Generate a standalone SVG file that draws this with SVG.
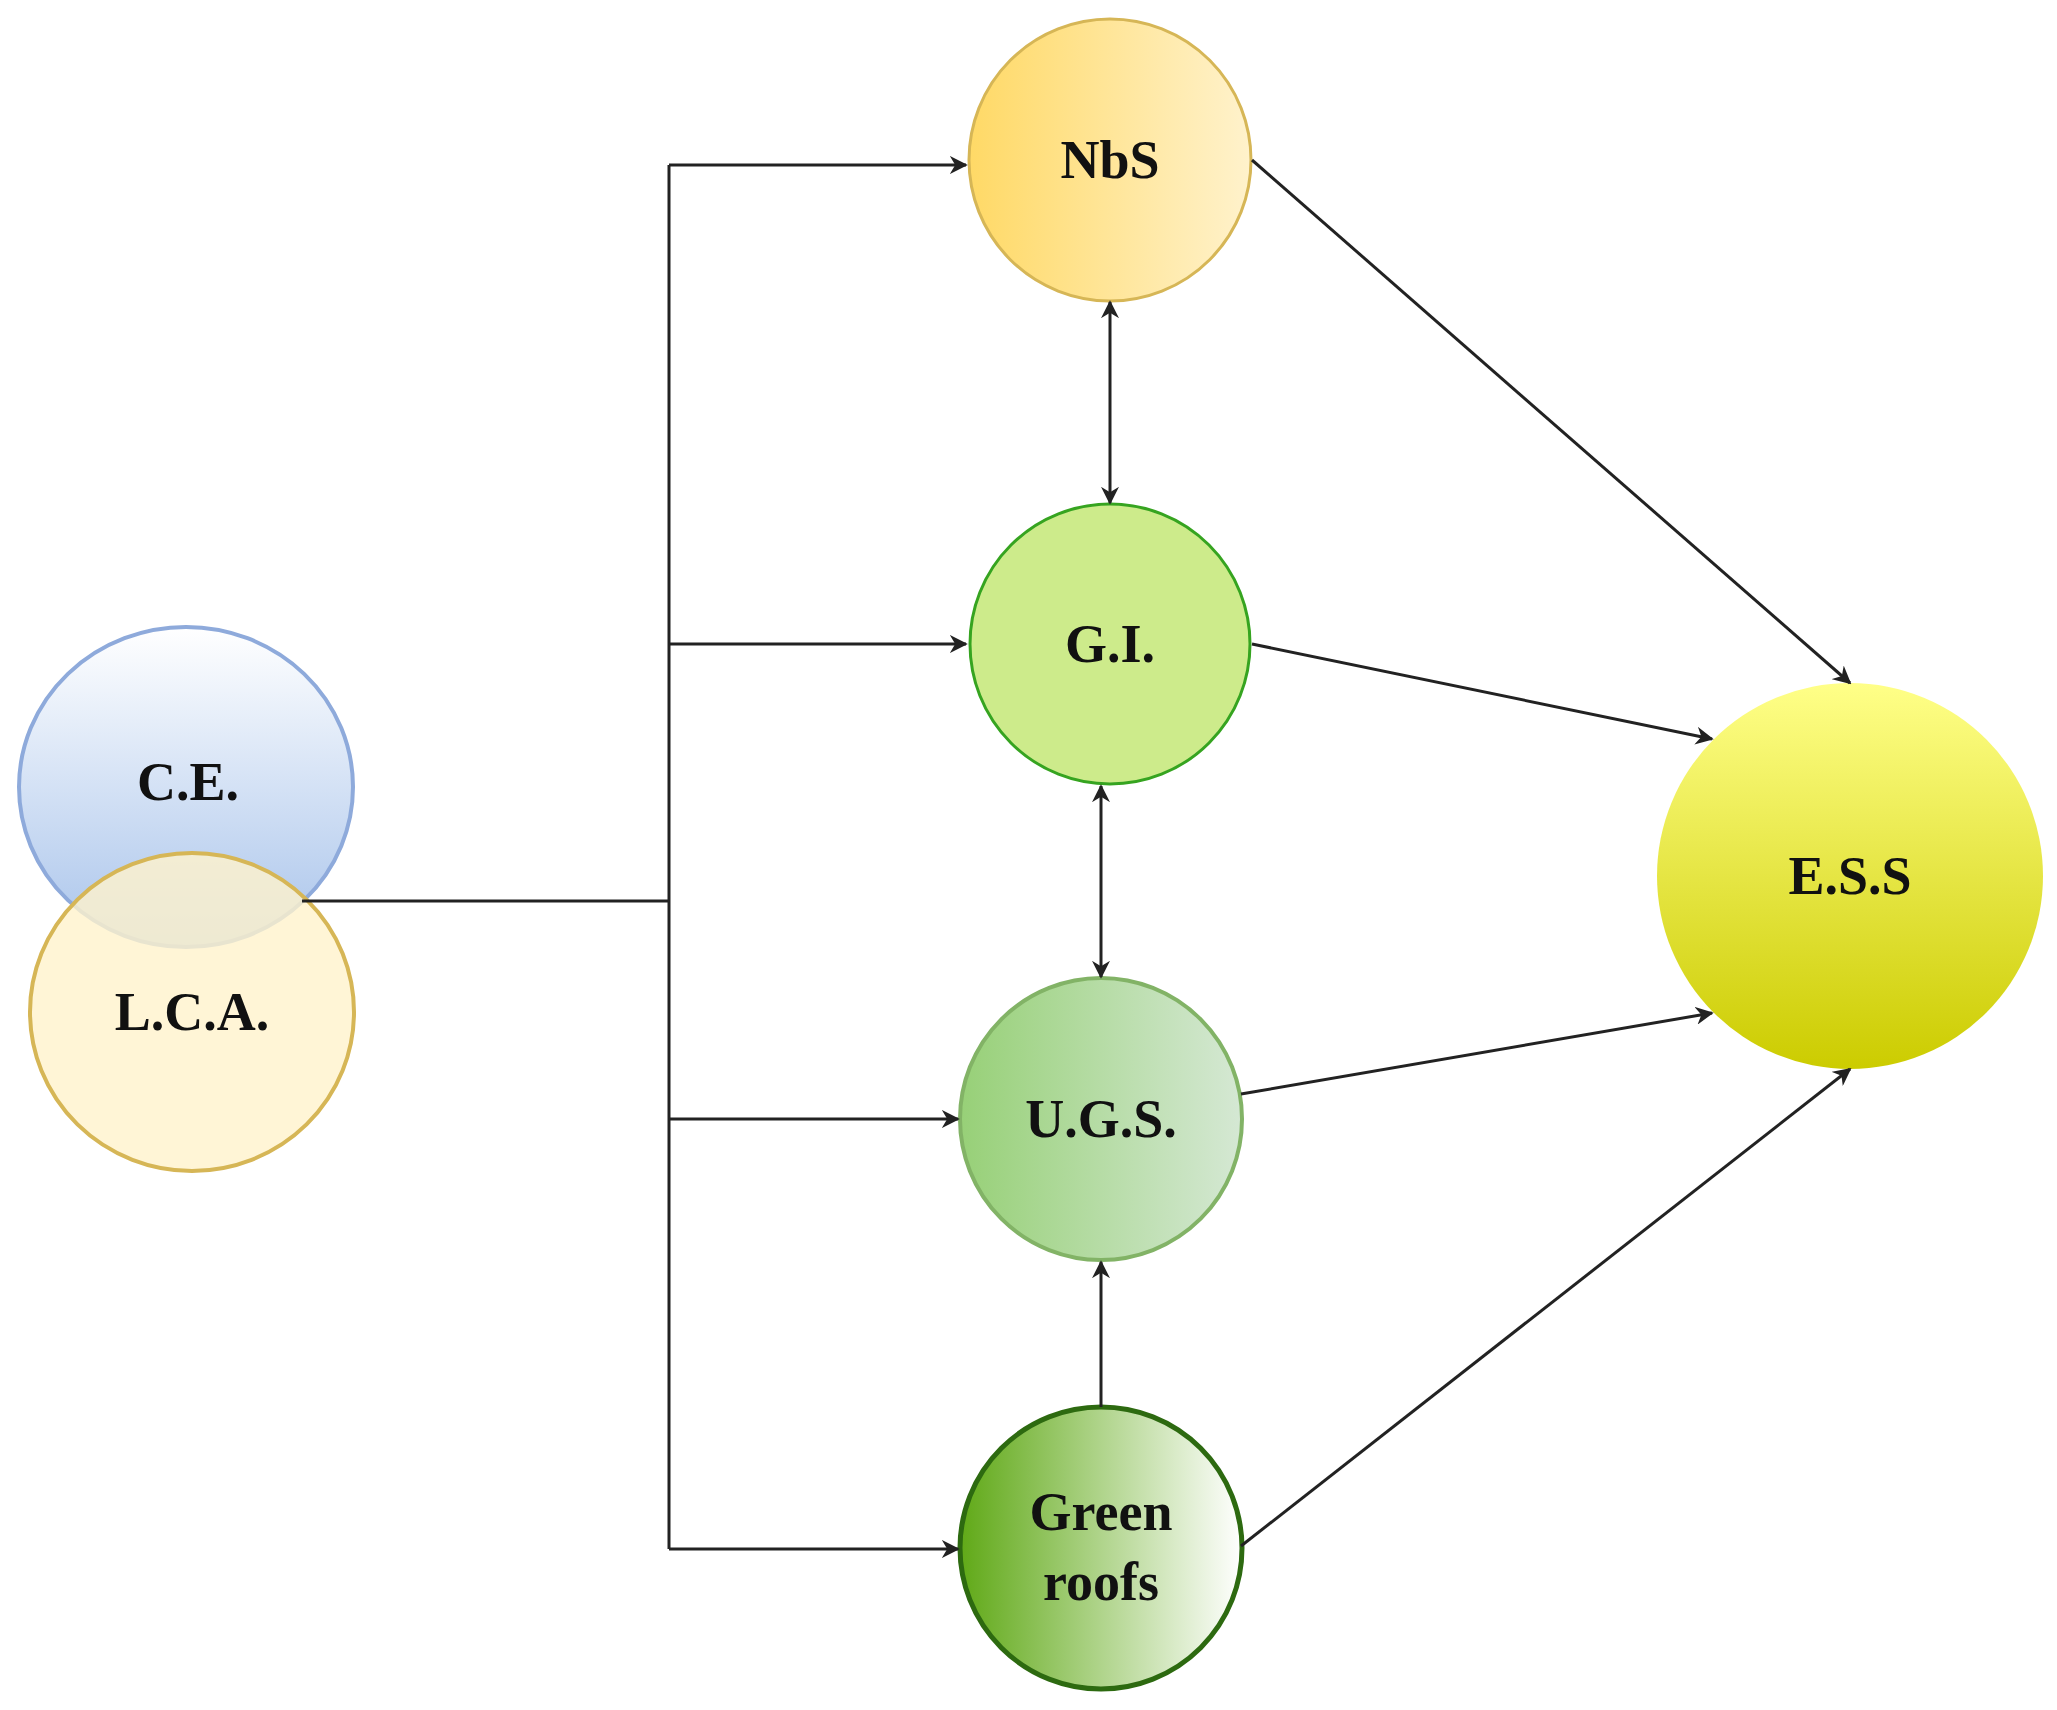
<svg xmlns="http://www.w3.org/2000/svg" width="2057" height="1710" viewBox="0 0 2057 1710">
<style>
text{font-family:"Liberation Serif","Times New Roman",serif;font-weight:bold;font-size:54px;fill:#111;text-anchor:middle}
.c{stroke:#222;stroke-width:3;fill:none}
</style>
<defs>
<marker id="a" viewBox="0 0 10 10" refX="9" refY="5" markerWidth="6" markerHeight="6" orient="auto-start-reverse"><path d="M0,0 L10,5 L0,10 L3,5 z" fill="#222"/></marker>
<linearGradient id="gNbS" x1="0" x2="1"><stop offset="0" stop-color="#ffd966"/><stop offset="1" stop-color="#fff2cc"/></linearGradient>
<linearGradient id="gUGS" x1="0" x2="1"><stop offset="0" stop-color="#97d077"/><stop offset="1" stop-color="#d5e8d4"/></linearGradient>
<linearGradient id="gGR" x1="0" x2="1"><stop offset="0" stop-color="#60a917"/><stop offset="1" stop-color="#ffffff"/></linearGradient>
<linearGradient id="gESS" x1="0" y1="0" x2="0" y2="1"><stop offset="0" stop-color="#ffff88"/><stop offset="1" stop-color="#cccc00"/></linearGradient>
<linearGradient id="gCE" x1="0" y1="0" x2="0" y2="1"><stop offset="0" stop-color="#ffffff"/><stop offset="1" stop-color="#a9c4eb"/></linearGradient>
</defs>
<g id="CE"><ellipse cx="186" cy="787" rx="167" ry="160" fill="url(#gCE)" stroke="#8eaadb" stroke-width="4"/><text x="188" y="800">C.E.</text></g>
<g id="LCA"><ellipse cx="192" cy="1012" rx="162" ry="159" fill="#fff2cc" fill-opacity="0.8" stroke="#d6b656" stroke-width="4"/><text x="192" y="1030">L.C.A.</text></g>
<g id="NbS"><circle cx="1110" cy="160" r="141" fill="url(#gNbS)" stroke="#d6b656" stroke-width="3"/><text x="1110" y="178">NbS</text></g>
<g id="GI"><circle cx="1110" cy="644" r="140" fill="#cdeb8b" stroke="#36a420" stroke-width="3"/><text x="1110" y="662">G.I.</text></g>
<g id="UGS"><circle cx="1101" cy="1119" r="141" fill="url(#gUGS)" stroke="#82b366" stroke-width="4"/><text x="1101" y="1137">U.G.S.</text></g>
<g id="GR"><circle cx="1101" cy="1548" r="141" fill="url(#gGR)" stroke="#2d6a10" stroke-width="5"/><text x="1101" y="1530">Green</text><text x="1101" y="1600">roofs</text></g>
<g id="ESS"><circle cx="1850" cy="876" r="193" fill="url(#gESS)"/><text x="1850" y="894">E.S.S</text></g>
<g id="connectors">
<path class="c" d="M302,901 H669"/>
<path class="c" d="M669,165 V1549"/>
<path class="c" d="M669,165 H966" marker-end="url(#a)"/>
<path class="c" d="M669,644 H966" marker-end="url(#a)"/>
<path class="c" d="M669,1119 H958" marker-end="url(#a)"/>
<path class="c" d="M669,1549 H958" marker-end="url(#a)"/>
<path class="c" d="M1110,302 V503" marker-start="url(#a)" marker-end="url(#a)"/>
<path class="c" d="M1101,786 V977" marker-start="url(#a)" marker-end="url(#a)"/>
<path class="c" d="M1101,1407 V1262" marker-end="url(#a)"/>
<path class="c" d="M1252,160 L1850,683" marker-end="url(#a)"/>
<path class="c" d="M1252,644 L1712,739" marker-end="url(#a)"/>
<path class="c" d="M1241,1094 L1712,1013" marker-end="url(#a)"/>
<path class="c" d="M1241,1546 L1850,1069" marker-end="url(#a)"/>
</g>
</svg>
